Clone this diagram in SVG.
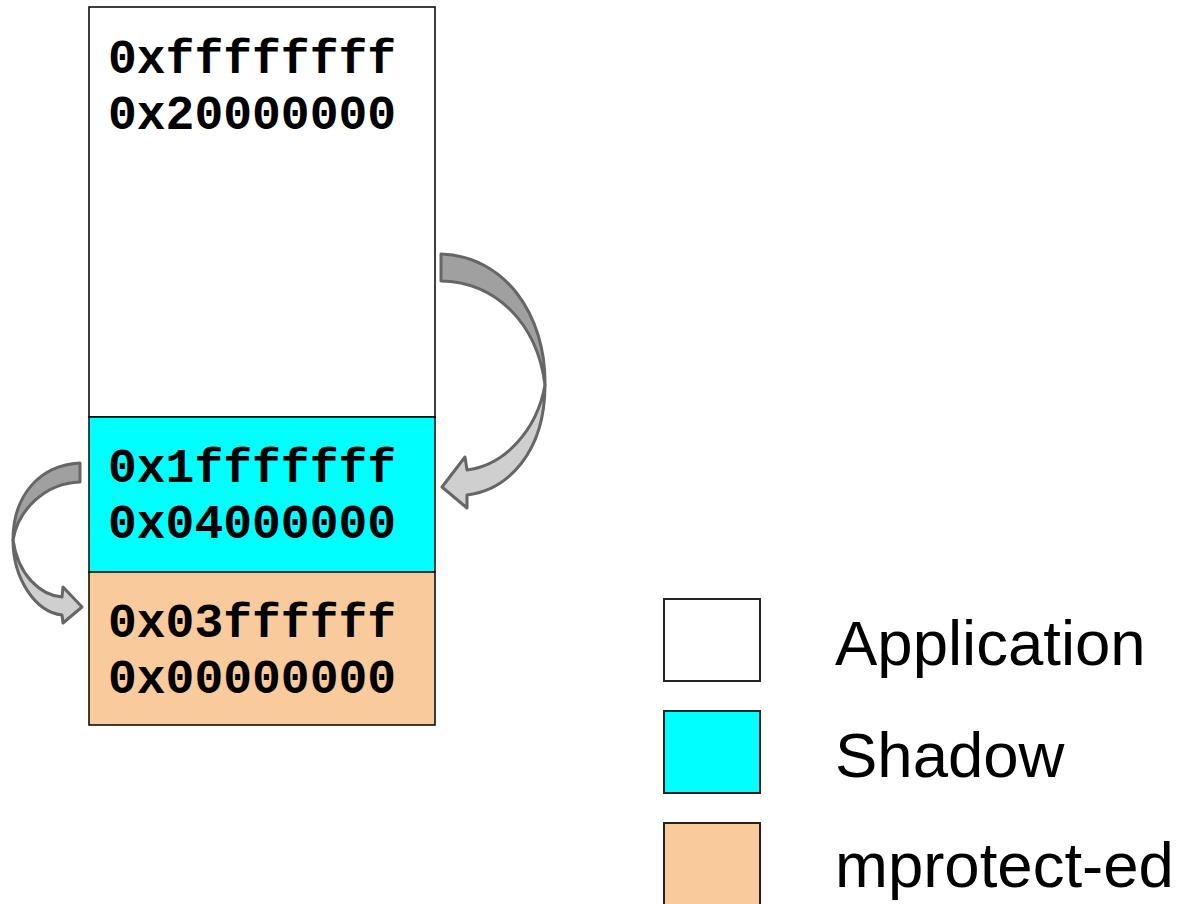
<svg xmlns="http://www.w3.org/2000/svg" width="1191" height="904" viewBox="0 0 1191 904">
<style>
.region{stroke:#000;stroke-width:1.5}
.addr{font-family:"Liberation Mono","Courier New",monospace;font-weight:bold;font-size:48px;fill:#000}
.leg{stroke:#222;stroke-width:2}
.lab{font-family:"Liberation Sans",Arial,sans-serif;font-size:63.5px;fill:#000}
.back{fill:#a0a0a0;stroke:#666;stroke-width:3;stroke-linejoin:round}
.front{fill:#cfcfcf;stroke:#666;stroke-width:3;stroke-linejoin:round}
</style>
<rect width="1191" height="904" fill="#fff"/>
<g id="application">
<rect class="region" x="89" y="7" width="346" height="410" fill="#fff"/>
<text class="addr" x="108" y="73">0xffffffff</text>
<text class="addr" x="108" y="129">0x20000000</text>
</g>
<g id="shadow">
<rect class="region" x="89" y="417" width="346" height="155" fill="#00ffff"/>
<text class="addr" x="108" y="482">0x1fffffff</text>
<text class="addr" x="108" y="538">0x04000000</text>
</g>
<g id="mprotected">
<rect class="region" x="89" y="572" width="346" height="153" fill="#f8ca9c"/>
<text class="addr" x="108" y="637">0x03ffffff</text>
<text class="addr" x="108" y="693">0x00000000</text>
</g>
<g id="connectors">
<path class="back" d="M441,254 C505,256 546,315 545,385 C 537,322 495,282 441,281 Z"/>
<path class="front" d="M545,385 C545,452 508,490 467,495 L467,508 L442,487 L465,457 L467,470 C505,465 537,430 545,385 Z"/>
<path class="back" d="M80,463 C40,465 13,495 13,540 C18,510 45,483 80,482 Z"/>
<path class="front" d="M13,540 C13,578 35,612 62,615 L63,623 L82,607 L63,587 L62,597 C40,595 18,575 13,540 Z"/>
</g>
<g id="legend-application">
<rect class="leg" x="664" y="599" width="96" height="82" fill="#fff"/>
<text class="lab" x="835" y="665">Application</text>
</g>
<g id="legend-shadow">
<rect class="leg" x="664" y="711" width="96" height="82" fill="#00ffff"/>
<text class="lab" x="835" y="777">Shadow</text>
</g>
<g id="legend-mprotected">
<rect class="leg" x="664" y="823" width="96" height="90" fill="#f8ca9c"/>
<text class="lab" x="835" y="887">mprotect-ed</text>
</g>
</svg>
